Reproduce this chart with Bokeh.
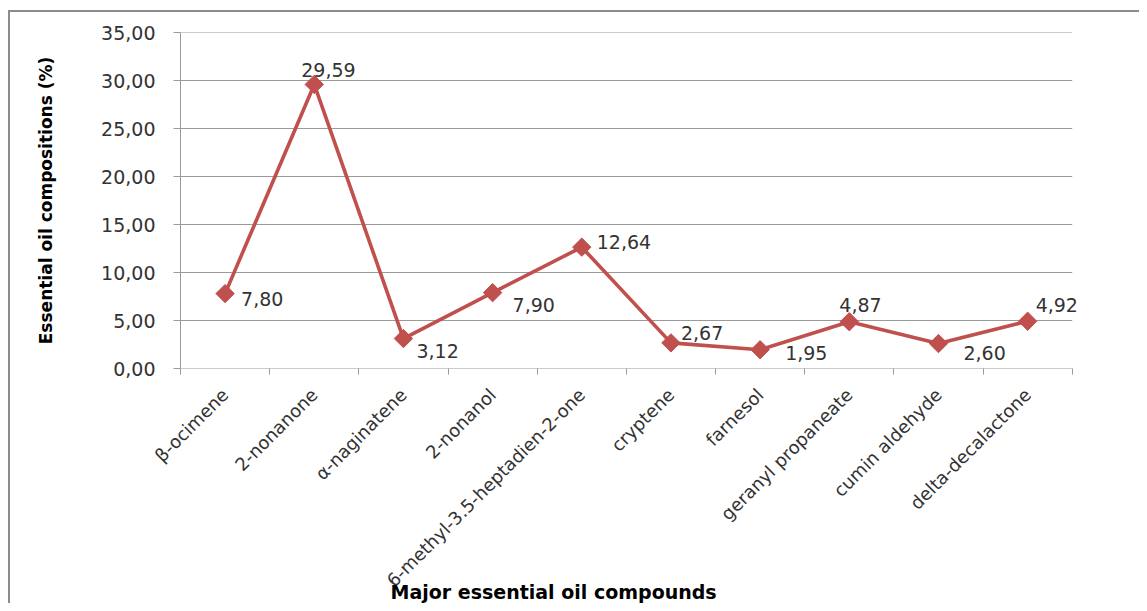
import math
from bokeh.plotting import figure
from bokeh.models import ColumnDataSource, Range1d, FixedTicker, Title, LabelSet
from bokeh.core.properties import value
from bokeh.embed import file_html
from bokeh.resources import INLINE

# ---- data ----
compounds = ["β-ocimene", "2-nonanone", "α-naginatene", "2-nonanol",
             "6-methyl-3.5-heptadien-2-one", "cryptene", "farnesol",
             "geranyl propaneate", "cumin aldehyde", "delta-decalactone"]
percent = [7.80, 29.59, 3.12, 7.90, 12.64, 2.67, 1.95, 4.87, 2.60, 4.92]
y_ticks = [0, 5, 10, 15, 20, 25, 30, 35]

# ---- label placement (style, screen px; positive dy = up) ----
label_dx = [16, -13, 13, 20, 15, 10, 25, -10, 25, 8]
label_dy = [-5, 14, -12, -12, 5, 10, -3, 17, -9, 16]

FONT = "DejaVu Sans"
RED = "#C0504D"
GRID = "#9a9a9a"
TXT = "#333333"
BORDER = "#8c8c8c"
N = len(compounds)
RIGHT_PAD = 0.16   # extra room to the right of the last category (for its label)

xs = [i + 0.5 for i in range(N)]
src = ColumnDataSource(dict(
    x=xs, y=percent,
    lbl=[f"{v:.2f}".replace(".", ",") for v in percent],
    dx=label_dx, dy=label_dy,
))

p = figure(width=1139, height=603, output_backend="svg", toolbar_location=None,
           x_range=Range1d(0, N + RIGHT_PAD), y_range=Range1d(0, 35),
           min_border_left=180, min_border_right=53, min_border_top=32,
           min_border_bottom=235)
p.outline_line_color = None
p.background_fill_color = "white"
p.border_fill_color = None
# outer chart border (left + top), drawn as element background
p.styles = {
    "background-color": "white",
    "background-image": f"linear-gradient({BORDER},{BORDER}), linear-gradient({BORDER},{BORDER})",
    "background-position": "8px 10px, 8px 10px",
    "background-size": "2px 100%, 100% 2px",
    "background-repeat": "no-repeat",
}

# horizontal gridlines spanning the categories only
p.segment(x0=[0] * len(y_ticks), x1=[N] * len(y_ticks), y0=y_ticks, y1=y_ticks,
          line_color=GRID, line_width=1)

# line + markers
p.line("x", "y", source=src, line_color=RED, line_width=3.6)
p.scatter("x", "y", source=src, marker="square", size=13, angle=math.pi / 4,
          fill_color=RED, line_color=RED)
p.add_layout(LabelSet(x="x", y="y", text="lbl", source=src,
                      x_offset="dx", y_offset="dy",
                      text_font=value(FONT), text_font_size="19px",
                      text_color=TXT, text_align="left",
                      text_baseline="middle"))

# x axis
xa = p.xaxis[0]
xa.ticker = FixedTicker(ticks=xs, minor_ticks=list(range(N + 1)))
xa.major_label_overrides = {x: c for x, c in zip(xs, compounds)}
xa.major_label_orientation = math.pi / 4
xa.major_label_text_font = FONT
xa.major_label_text_font_size = "18px"
xa.major_label_text_color = TXT
xa.major_label_standoff = 17
xa.major_tick_out = 0
xa.major_tick_in = 0
xa.minor_tick_out = 6
xa.minor_tick_in = 0
xa.minor_tick_line_color = GRID
xa.axis_line_color = None

t = Title(text="Major essential oil compounds", align="left", offset=210,
          vertical_align="top",
          text_font=FONT, text_font_size="19px", text_font_style="bold",
          text_color="black", standoff=-42)
p.add_layout(t, "below")

# y axis
ya = p.yaxis[0]
ya.ticker = FixedTicker(ticks=y_ticks, minor_ticks=[])
ya.major_label_overrides = {v: f"{v:.2f}".replace(".", ",") for v in y_ticks}
ya.major_label_text_font = FONT
ya.major_label_text_font_size = "19px"
ya.major_label_text_color = TXT
ya.major_label_standoff = 18
ya.major_tick_out = 7
ya.major_tick_in = 0
ya.major_tick_line_color = GRID
ya.axis_line_color = GRID
ya.axis_label = "Essential oil compositions (%)"
ya.axis_label_text_font = FONT
ya.axis_label_text_font_size = "17px"
ya.axis_label_text_font_style = "bold"
ya.axis_label_text_color = "black"
ya.axis_label_standoff = 42

p.xgrid.visible = False
p.ygrid.visible = False

open("out.html", "w").write(file_html(p, INLINE))
